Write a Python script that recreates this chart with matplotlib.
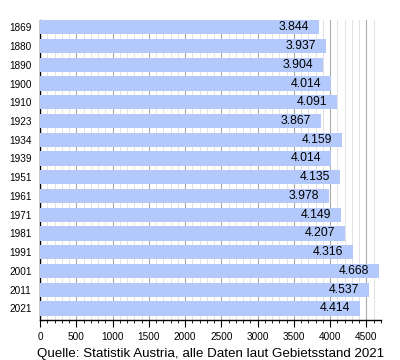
import matplotlib
matplotlib.use("Agg")
import matplotlib.pyplot as plt
from matplotlib.ticker import MultipleLocator

# Einwohnerzahlen laut Volkszaehlung
years = ["1869", "1880", "1890", "1900", "1910", "1923", "1934", "1939",
         "1951", "1961", "1971", "1981", "1991", "2001", "2011", "2021"]
population = [3844, 3937, 3904, 4014, 4091, 3867, 4159, 4014,
              4135, 3978, 4149, 4207, 4316, 4668, 4537, 4414]
source = "Quelle: Statistik Austria, alle Daten laut Gebietsstand 2021"

plt.rcParams["font.family"] = ["Liberation Sans", "DejaVu Sans"]

fig = plt.figure(figsize=(4, 3.6), dpi=100)
ax = fig.add_axes([0.1, 0.111, 0.8525, 0.833])

pos = list(range(len(years)))
bar_h = 0.76
ax.barh(pos, population, height=bar_h, align="edge", color="#b3c9fb", zorder=3)

# value labels inside the bar end, German thousands separator
for y, v in zip(pos, population):
    label = f"{v:,}".replace(",", ".")
    ax.annotate(label, (v, y + bar_h / 2), xytext=(-7, 0), textcoords="offset points",
                ha="right", va="center", fontsize=8.8, color="black", zorder=4)

ax.set_ylim(len(years), 0)
ax.set_xlim(0, 4700)
ax.set_yticks([p + bar_h / 2 for p in pos])
ax.set_yticklabels(years)
ax.tick_params(axis="y", length=0, labelsize=7.2, pad=6)

ax.xaxis.set_major_locator(MultipleLocator(500))
ax.xaxis.set_minor_locator(MultipleLocator(100))
ax.tick_params(axis="x", which="major", length=5, width=0.8, labelsize=7.2, direction="out")
ax.tick_params(axis="x", which="minor", length=2.5, width=0.6, direction="out")
ax.grid(axis="x", which="major", color="#aaaaaa", linewidth=0.8, zorder=0)
ax.grid(axis="x", which="minor", color="#dddddd", linewidth=0.6, zorder=0)
ax.set_axisbelow(True)

ax.spines["top"].set_visible(False)
ax.spines["right"].set_visible(False)
ax.spines["left"].set_linewidth(1.0)
ax.spines["bottom"].set_linewidth(1.0)

fig.text(0.526, 0.017, source, ha="center", va="center", fontsize=9.6)

fig.savefig("out.png", dpi=100)
